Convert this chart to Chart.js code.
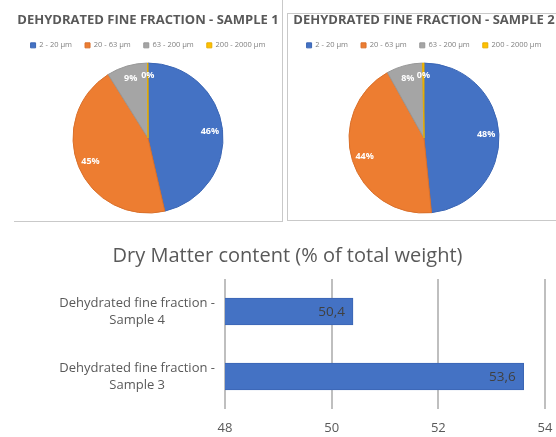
<!DOCTYPE html>
<html>
<head>
<meta charset="utf-8">
<script src="https://cdn.jsdelivr.net/npm/chart.js@4/dist/chart.umd.min.js"></script>
<style>
  body { margin: 0; background: #fff; width: 556px; height: 437px; overflow: hidden; position: relative; font-family: "Open Sans", sans-serif; }
  .panel { position: absolute; box-sizing: border-box; }
  #p1 { left: 14px; top: -5px; width: 269px; height: 227px; border-right: 1px solid #c9c9c9; border-bottom: 1px solid #c9c9c9; }
  #p2 { left: 287px; top: 13px; width: 280px; height: 208px; border: 1px solid #c9c9c9; }
  canvas { position: absolute; }
</style>
</head>
<body>
<div class="panel" id="p1"></div>
<div class="panel" id="p2"></div>
<canvas id="pie1" style="left:14px;top:0;width:268px;height:221px" width="268" height="221"></canvas>
<canvas id="pie2" style="left:287px;top:0;width:274px;height:221px" width="274" height="221"></canvas>
<canvas id="bars" style="left:0;top:230px;width:556px;height:207px" width="556" height="207"></canvas>
<script>
// particle size classes
const sizeClasses = ['2 - 20 µm', '20 - 63 µm', '63 - 200 µm', '200 - 2000 µm'];
const sample1Shares = [46.4, 44.7, 8.8, 0.1];
const sample2Shares = [48.4, 43.5, 7.8, 0.3];
const pieColors = ['#4472C4', '#ED7D31', '#A5A5A5', '#FFC000'];
const pieEdges = ['#3b66b4', '#d9702b', '#979797', '#e6ad00'];

// dry matter
const samples = [['Dehydrated fine fraction -', 'Sample 4'], ['Dehydrated fine fraction -', 'Sample 3']];
const dryMatter = [50.4, 53.6];
const dryTicks = [48, 50, 52, 54];

const grey = '#595959';

// percent labels on the slices
const sliceLabels = {
  id: 'sliceLabels',
  afterDatasetsDraw(chart) {
    const ctx = chart.ctx;
    const meta = chart.getDatasetMeta(0);
    const vals = chart.data.datasets[0].data;
    ctx.save();
    ctx.fillStyle = '#fff';
    ctx.font = 'bold 9px "Open Sans"';
    ctx.textAlign = 'center';
    ctx.textBaseline = 'middle';
    meta.data.forEach((arc, i) => {
      const mid = (arc.startAngle + arc.endAngle) / 2;
      const r = arc.outerRadius * 0.83;
      ctx.fillText(Math.round(vals[i]) + '%', arc.x + Math.cos(mid) * r, arc.y + Math.sin(mid) * r);
    });
    ctx.restore();
  }
};

function makePie(id, title, shares) {
  return new Chart(document.getElementById(id), {
    type: 'pie',
    data: {
      labels: sizeClasses,
      datasets: [{
        data: shares,
        backgroundColor: pieColors,
        borderColor: pieEdges,
        borderWidth: 1
      }]
    },
    options: {
      responsive: false,
      animation: false,
      radius: 75,
      layout: { padding: { bottom: 4 } },
      plugins: {
        title: {
          display: true,
          text: title,
          color: grey,
          font: { family: 'Open Sans', size: 13, weight: 'bold' },
          padding: { top: 12, bottom: 1 }
        },
        legend: {
          position: 'top',
          labels: {
            boxWidth: 5,
            boxHeight: 5,
            padding: 13,
            color: '#7f7f7f',
            font: { family: 'Open Sans', size: 7.5 }
          }
        },
        tooltip: { enabled: false }
      }
    },
    plugins: [sliceLabels]
  });
}

makePie('pie1', 'DEHYDRATED FINE FRACTION - SAMPLE 1', sample1Shares);
makePie('pie2', 'DEHYDRATED FINE FRACTION - SAMPLE 2', sample2Shares);

// value at the end of each bar, with a decimal comma
const barValues = {
  id: 'barValues',
  afterDatasetsDraw(chart) {
    const ctx = chart.ctx;
    const meta = chart.getDatasetMeta(0);
    ctx.save();
    ctx.fillStyle = '#404040';
    ctx.font = '13.5px "Open Sans"';
    ctx.textAlign = 'right';
    ctx.textBaseline = 'middle';
    meta.data.forEach((bar, i) => {
      ctx.fillText(String(dryMatter[i]).replace('.', ','), bar.x - 8, bar.y + 1);
    });
    ctx.restore();
  }
};

new Chart(document.getElementById('bars'), {
  type: 'bar',
  data: {
    labels: samples,
    datasets: [{
      data: dryMatter,
      backgroundColor: '#4472C4',
      borderColor: '#3b66b4',
      borderWidth: 1,
      barThickness: 27
    }]
  },
  options: {
    indexAxis: 'y',
    responsive: false,
    animation: false,
    layout: { padding: { left: 30, right: 11 } },
    scales: {
      x: {
        min: 48,
        max: 54,
        afterBuildTicks(scale) { scale.ticks = dryTicks.map(v => ({ value: v })); },
        afterFit(scale) { scale.height = 28; scale.paddingLeft = 0; scale.paddingRight = 0; },
        grid: { color: '#bfbfbf', lineWidth: 2, drawTicks: false },
        border: { display: false },
        ticks: { color: grey, padding: 11, font: { family: 'Open Sans', size: 13 } }
      },
      y: {
        afterFit(scale) { scale.width = 195; },
        grid: { display: false },
        border: { display: false },
        ticks: {
          color: grey,
          crossAlign: 'center',
          padding: 2,
          font: { family: 'Open Sans', size: 13, lineHeight: 1.3 }
        }
      }
    },
    plugins: {
      title: {
        display: true,
        text: 'Dry Matter content (% of total weight)',
        color: grey,
        font: { family: 'Open Sans', size: 20, weight: 'normal' },
        padding: { top: 14, bottom: 11 }
      },
      legend: { display: false },
      tooltip: { enabled: false }
    }
  },
  plugins: [barValues]
});
</script>
</body>
</html>
